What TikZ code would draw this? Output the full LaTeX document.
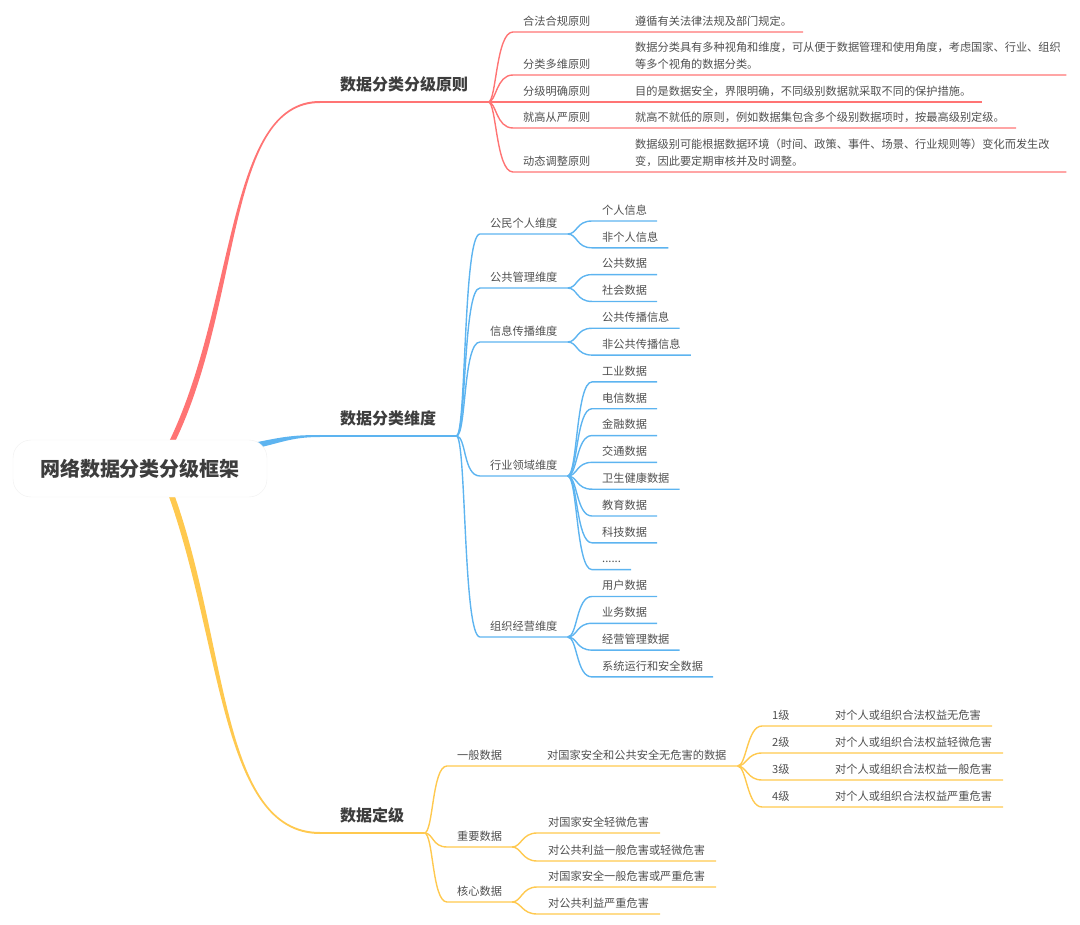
\documentclass[tikz,border=0pt]{standalone}
\usepackage{fontspec}
\setmainfont{Noto Sans CJK SC}
\usetikzlibrary{calc}

\definecolor{rcol}{HTML}{FF7474}
\definecolor{bcol}{HTML}{5DB4F0}
\definecolor{ycol}{HTML}{FFC94F}
\definecolor{hcol}{HTML}{3D3D3D}
\definecolor{tcol}{HTML}{505050}

\newcommand{\moredots}{......}

\pgfdeclarelayer{bg}
\pgfsetlayers{bg,main}

\tikzset{
	rootbox/.style={draw=black!6, fill=white, rounded corners=18pt, minimum width=254pt, minimum height=57pt,
		font=\fontsize{20}{24}\selectfont\bfseries, text=hcol},
	mainbox/.style={anchor=south west, inner xsep=20pt, inner ysep=9.5pt, text height=14pt, text depth=2pt,
		font=\fontsize{16}{19}\selectfont\bfseries, text=hcol},
	subbox/.style={anchor=south west, inner xsep=10pt, inner ysep=5pt, text height=9.5pt, text depth=1.5pt,
		font=\fontsize{11.2}{17}\selectfont, text=tcol},
	descbox/.style={anchor=south west, inner xsep=11pt, inner ysep=5pt, text depth=1.5pt, align=left,
		font=\fontsize{11.2}{17}\selectfont, text=tcol},
	twoline/.style={text width=420pt, text depth=18.5pt},
	rbr/.style={draw=rcol, line width=1.4pt},
	bbr/.style={draw=bcol, line width=1.4pt},
	ybr/.style={draw=ycol, line width=1.4pt},
}

\begin{document}
\begin{tikzpicture}[x=1pt, y=-1pt]
	\useasboundingbox (0,0) rectangle (1080,925);

	% root and main branches
	\node[rootbox] (root) at (140,468.5) {网络数据分类分级框架};
	\node[mainbox] (prin) at (320,102) {数据分类分级原则};
	\node[mainbox] (dims) at (320,436) {数据分类维度};
	\node[mainbox] (grad) at (320,833) {数据定级};

	% principles
	\node[subbox] (p1) at (513,32)  {合法合规原则};
	\node[subbox] (p2) at (513,75)  {分类多维原则};
	\node[subbox] (p3) at (513,102) {分级明确原则};
	\node[subbox] (p4) at (513,128) {就高从严原则};
	\node[subbox] (p5) at (513,172) {动态调整原则};

	\node[descbox] (p1-d) at (624,32) {遵循有关法律法规及部门规定。};
	\node[descbox, twoline] (p2-d) at (624,75) {数据分类具有多种视角和维度，可从便于数据管理和使用角度，考虑国家、行业、组织\\等多个视角的数据分类。};
	\node[descbox] (p3-d) at (624,102) {目的是数据安全，界限明确，不同级别数据就采取不同的保护措施。};
	\node[descbox] (p4-d) at (624,128) {就高不就低的原则，例如数据集包含多个级别数据项时，按最高级别定级。};
	\node[descbox, twoline] (p5-d) at (624,172) {数据级别可能根据数据环境（时间、政策、事件、场景、行业规则等）变化而发生改\\变，因此要定期审核并及时调整。};

	% dimensions
	\node[subbox] (d1) at (480,234) {公民个人维度};
	\node[subbox] (d2) at (480,288) {公共管理维度};
	\node[subbox] (d3) at (480,342) {信息传播维度};
	\node[subbox] (d4) at (480,476) {行业领域维度};
	\node[subbox] (d5) at (480,637) {组织经营维度};

	\foreach \t [count=\i from 0] in {个人信息,非个人信息,公共数据,社会数据,公共传播信息,非公共传播信息,
		工业数据,电信数据,金融数据,交通数据,卫生健康数据,教育数据,科技数据,\moredots,
		用户数据,业务数据,经营管理数据,系统运行和安全数据}
		\node[subbox] (c\i) at (592,221+26.82*\i) {\t};

	% grading
	\node[subbox] (g1) at (447,766) {一般数据};
	\node[subbox] (g2) at (447,847) {重要数据};
	\node[subbox] (g3) at (447,902) {核心数据};
	\node[descbox] (g1-d) at (536,766) {对国家安全和公共安全无危害的数据};

	\node[subbox] (lv1) at (762,726) {1级};
	\node[subbox] (lv2) at (762,753) {2级};
	\node[subbox] (lv3) at (762,780) {3级};
	\node[subbox] (lv4) at (762,807) {4级};
	\node[descbox] (lv1-d) at (824,726) {对个人或组织合法权益无危害};
	\node[descbox] (lv2-d) at (824,753) {对个人或组织合法权益轻微危害};
	\node[descbox] (lv3-d) at (824,780) {对个人或组织合法权益一般危害};
	\node[descbox] (lv4-d) at (824,807) {对个人或组织合法权益严重危害};

	\node[descbox] (g2-a) at (537,833) {对国家安全轻微危害};
	\node[descbox] (g2-b) at (537,861) {对公共利益一般危害或轻微危害};
	\node[descbox] (g3-a) at (537,887) {对国家安全一般危害或严重危害};
	\node[descbox] (g3-b) at (537,914) {对公共利益严重危害};

	% thick tapered branches from the root
	\begin{pgfonlayer}{bg}
		\fill[rcol] ($(root.north)+(27,6)$) .. controls +(70,-140) and +(-95,0) .. ($(prin.south west)+(0,-1)$)
			-- ($(prin.south west)+(0,1)$) .. controls +(-95,0) and +(70,-140) .. ($(root.north)+(33,6)$) -- cycle;
		\fill[bcol] ($(root.east)+(-17,-25)$) .. controls +(30,-6) and +(-30,0) .. ($(dims.south west)+(0,-1)$)
			-- ($(dims.south west)+(0,1)$) .. controls +(-30,0) and +(30,-6) .. ($(root.east)+(-17,-19)$) -- cycle;
		\fill[ycol] ($(root.south)+(27,-6)$) .. controls +(55,150) and +(-100,0) .. ($(grad.south west)+(0,1)$)
			-- ($(grad.south west)+(0,-1)$) .. controls +(-100,0) and +(55,150) .. ($(root.south)+(33,-6)$) -- cycle;
	\end{pgfonlayer}
	\draw[rcol, line width=2pt] (prin.south west) -- (prin.south east);
	\draw[bcol, line width=2pt] (dims.south west) -- (dims.south east);
	\draw[ycol, line width=2pt] (grad.south west) -- (grad.south east);

	% principle connectors
	\foreach \p in {p1,p2,p3,p4,p5}
		\draw[rbr] (prin.south east) .. controls +(8,0) and +(-17,0) .. (\p.south west) -- (\p-d.south east);

	% dimension connectors
	\foreach \d in {d1,d2,d3,d4,d5}
		\draw[bbr] (dims.south east) .. controls +(10,0) and +(-17,0) .. (\d.south west) -- (\d.south east);
	\foreach \d/\i in {d1/0,d1/1,d2/2,d2/3,d3/4,d3/5,d4/6,d4/7,d4/8,d4/9,d4/10,d4/11,d4/12,d4/13,
		d5/14,d5/15,d5/16,d5/17}
		\draw[bbr] (\d.south east) .. controls +(10,0) and +(-16,0) .. (c\i.south west) -- (c\i.south east);

	% grading connectors
	\draw[ybr] (grad.south east) .. controls +(9,0) and +(-15,0) .. (g1.south west) -- (g1-d.south east);
	\foreach \g in {g2,g3}
		\draw[ybr] (grad.south east) .. controls +(9,0) and +(-15,0) .. (\g.south west) -- (\g.south east);
	\foreach \l in {lv1,lv2,lv3,lv4}
		\draw[ybr] (g1-d.south east) .. controls +(9,0) and +(-15,0) .. (\l.south west) -- (\l-d.south east);
	\foreach \g in {g2,g3}
		\foreach \s in {a,b}
			\draw[ybr] (\g.south east) .. controls +(9,0) and +(-15,0) .. (\g-\s.south west) -- (\g-\s.south east);
\end{tikzpicture}
\end{document}
